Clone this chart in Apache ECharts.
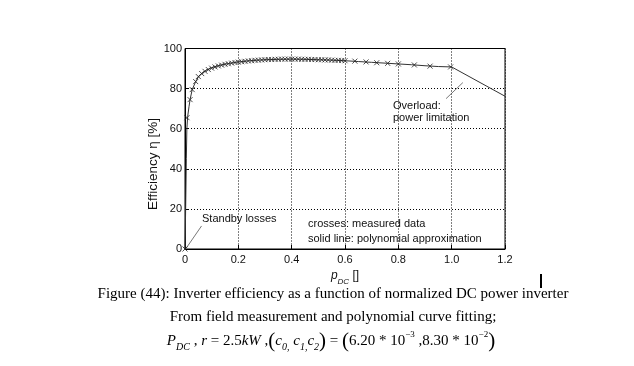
<!DOCTYPE html>
<html><head><meta charset="utf-8">
<script src="https://cdn.jsdelivr.net/npm/echarts@6/dist/echarts.min.js"></script>
<style>html,body{margin:0;padding:0;background:#fff}#c{width:634px;height:366px}</style>
</head><body><div id="c"></div>
<script>
// ---- data ----
const xTicks = [0, 0.2, 0.4, 0.6, 0.8, 1.0, 1.2];
const xTickLabels = ['0', '0.2', '0.4', '0.6', '0.8', '1.0', '1.2'];
const yTicks = [0, 20, 40, 60, 80, 100];

const measuredX = [0, 0.0075, 0.019, 0.027, 0.04, 0.05, 0.0625, 0.075, 0.0875, 0.1, 0.1125, 0.125, 0.1375, 0.15, 0.1625, 0.175, 0.1875, 0.2, 0.2125, 0.225, 0.2375, 0.25, 0.2625, 0.275, 0.2875, 0.3, 0.3125, 0.325, 0.3375, 0.35, 0.3625, 0.375, 0.3875, 0.4, 0.4125, 0.425, 0.4375, 0.45, 0.4625, 0.475, 0.4875, 0.5, 0.5125, 0.525, 0.5375, 0.55, 0.5625, 0.575, 0.5875, 0.6, 0.637, 0.679, 0.719, 0.76, 0.8, 0.86, 0.919, 0.996];
const measuredY = [0, 65.5, 74.5, 79.5, 83.5, 86, 87.5, 88.6, 89.5, 90.2, 90.8, 91.3, 91.7, 92.1, 92.4, 92.7, 93, 93.2, 93.4, 93.6, 93.8, 93.9, 94.1, 94.2, 94.3, 94.4, 94.5, 94.5, 94.6, 94.6, 94.7, 94.7, 94.7, 94.7, 94.7, 94.7, 94.6, 94.6, 94.6, 94.5, 94.5, 94.4, 94.4, 94.3, 94.3, 94.2, 94.1, 94.1, 94.0, 93.9, 93.7, 93.3, 92.9, 92.6, 92.3, 91.8, 91.2, 90.8];

const fitX = [0, 0.003, 0.005, 0.007, 0.01, 0.015, 0.019, 0.027, 0.04, 0.05, 0.06, 0.08, 0.1, 0.125, 0.15, 0.2, 0.25, 0.3, 0.35, 0.4, 0.45, 0.5, 0.55, 0.6, 0.65, 0.7, 0.75, 0.8, 0.85, 0.9, 0.95, 1.0, 1.2];
const fitY = [0, 25, 45, 60, 66, 71, 74.5, 79.5, 83.5, 85.7, 87.2, 89.2, 90.4, 91.4, 92.2, 93.3, 94.0, 94.4, 94.6, 94.7, 94.6, 94.4, 94.2, 93.9, 93.5, 93.1, 92.7, 92.3, 91.9, 91.4, 91.0, 90.8, 76.2];

const standbyPointerX = [0.005, 0.062];
const standbyPointerY = [0.5, 11.5];
const overloadPointerX = [0.979, 1.042];
const overloadPointerY = [75, 83];

const zip = (a, b) => a.map((v, i) => [v, b[i]]);

const chart = echarts.init(document.getElementById('c'), null, {renderer: 'canvas'});
const sans = 'Liberation Sans, Arial, Helvetica, sans-serif';
const serif = 'Liberation Serif, Times New Roman, serif';
const ink = '#333';

chart.setOption({
  backgroundColor: '#fff',
  animation: false,
  grid: {left: 185, right: 129, top: 48.5, bottom: 117, show: true, borderColor: '#000', borderWidth: 1, backgroundColor: 'transparent'},
  xAxis: {
    type: 'value', min: 0, max: 1.2, interval: 0.2,
    axisLine: {show: true, onZero: false, lineStyle: {color: '#000', width: 1}},
    axisTick: {show: true, inside: true, length: 4, lineStyle: {color: '#000'}},
    axisLabel: {color: '#111', fontFamily: sans, fontSize: 11, margin: 5,
      formatter: v => { const i = xTicks.findIndex(t => Math.abs(t - v) < 1e-9); return i >= 0 ? xTickLabels[i] : ''; }},
    splitLine: {show: true, lineStyle: {color: '#000', type: [1, 2], width: 1}},
    name: '{p|p}{s|DC}{b| []}', nameLocation: 'middle', nameGap: 17,
    nameTextStyle: {rich: {
      p: {fontFamily: sans, fontStyle: 'italic', fontSize: 12, color: '#111', lineHeight: 16, verticalAlign: 'top'},
      s: {fontFamily: sans, fontStyle: 'italic', fontSize: 8, color: '#111', lineHeight: 16, verticalAlign: 'bottom'},
      b: {fontFamily: sans, fontSize: 12, color: '#111', lineHeight: 16, verticalAlign: 'top'}
    }}
  },
  yAxis: {
    type: 'value', min: 0, max: 100, interval: 20,
    axisLine: {show: true, onZero: false, lineStyle: {color: '#000', width: 1}},
    axisTick: {show: true, inside: true, length: 4, lineStyle: {color: '#000'}},
    axisLabel: {color: '#111', fontFamily: sans, fontSize: 11, margin: 3},
    splitLine: {show: true, lineStyle: {color: '#000', type: [1, 2], width: 1}}
  },
  series: [
    {type: 'line', name: 'fit', data: zip(fitX, fitY), showSymbol: false, symbol: 'none',
      lineStyle: {color: ink, width: 1}, z: 3},
    {type: 'scatter', name: 'measured', data: zip(measuredX, measuredY),
      symbol: 'path://M0,0L10,10M10,0L0,10', symbolSize: 5,
      itemStyle: {color: 'rgba(0,0,0,0)', borderColor: '#222', borderWidth: 1}, z: 4},
    {type: 'line', name: 'standbyPointer', data: zip(standbyPointerX, standbyPointerY), symbol: 'none',
      lineStyle: {color: '#555', width: 0.8}, z: 2},
    {type: 'line', name: 'overloadPointer', data: zip(overloadPointerX, overloadPointerY), symbol: 'none',
      lineStyle: {color: '#555', width: 0.8}, z: 2}
  ],
  graphic: [
    {type: 'text', x: 153, y: 164, rotation: Math.PI / 2, style: {text: 'Efficiency η [%]', fontFamily: sans, fontSize: 13.5, fill: '#111', align: 'center', verticalAlign: 'middle'}},
    {type: 'text', x: 202, y: 219, style: {text: 'Standby losses', fontFamily: sans, fontSize: 11, fill: '#111', verticalAlign: 'middle'}},
    {type: 'text', x: 308, y: 224, style: {text: 'crosses: measured data', fontFamily: sans, fontSize: 11, fill: '#111', verticalAlign: 'middle'}},
    {type: 'text', x: 308, y: 238.5, style: {text: 'solid line: polynomial approximation', fontFamily: sans, fontSize: 11, fill: '#111', verticalAlign: 'middle'}},
    {type: 'text', x: 393, y: 106, style: {text: 'Overload:', fontFamily: sans, fontSize: 11, fill: '#111', verticalAlign: 'middle'}},
    {type: 'text', x: 393, y: 118, style: {text: 'power limitation', fontFamily: sans, fontSize: 11, fill: '#111', verticalAlign: 'middle'}},
    {type: 'rect', shape: {x: 540, y: 274, width: 2, height: 14}, style: {fill: '#000'}},
    {type: 'text', x: 333, y: 294, style: {text: 'Figure (44): Inverter efficiency as a function of normalized DC power inverter', fontFamily: serif, fontSize: 15, fill: '#000', align: 'center', verticalAlign: 'middle'}},
    {type: 'text', x: 333, y: 317, style: {text: 'From field measurement and polynomial curve fitting;', fontFamily: serif, fontSize: 15, fill: '#000', align: 'center', verticalAlign: 'middle'}},
    {type: 'text', x: 331, y: 341, style: {
      text: '{i|P}{sb|DC}{n| , }{i|r}{n| = 2.5}{i|kW}{n| ,}{pa|(}{i|c}{sb|0,}{i| c}{sb|1,}{i|c}{sb|2}{pa|)}{n| = }{pa|(}{n|6.20 * 10}{sp|−3}{n| ,8.30 * 10}{sp|−2}{pa|)}',
      align: 'center', verticalAlign: 'middle',
      rich: {
        i: {fontFamily: serif, fontStyle: 'italic', fontSize: 15, fill: '#000', lineHeight: 22, verticalAlign: 'middle'},
        n: {fontFamily: serif, fontSize: 15, fill: '#000', lineHeight: 22, verticalAlign: 'middle'},
        sb: {fontFamily: serif, fontStyle: 'italic', fontSize: 10, fill: '#000', lineHeight: 22, verticalAlign: 'bottom'},
        sp: {fontFamily: serif, fontSize: 9, fill: '#000', lineHeight: 22, verticalAlign: 'top'},
        pa: {fontFamily: serif, fontSize: 21, fill: '#000', lineHeight: 22, verticalAlign: 'middle'}
      }
    }}
  ]
});
</script>
</body></html>
